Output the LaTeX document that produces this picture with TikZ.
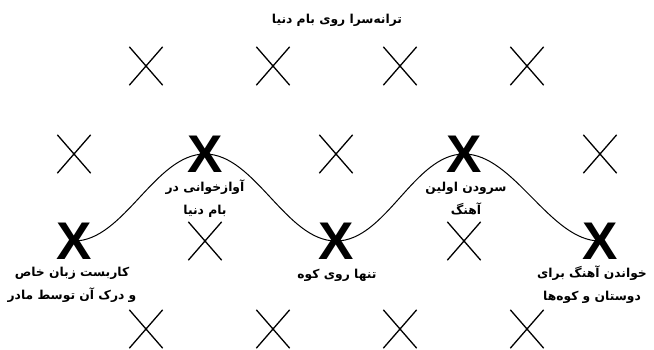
\documentclass[tikz,border=0pt]{standalone}
\usepackage{fontspec}
\usetikzlibrary{shapes.misc}
\TeXXeTstate=1
\newfontfamily\arabicfont[Script=Arabic]{DejaVu Sans}
\newfontfamily\xfont{Liberation Sans}
\begin{document}
\begin{tikzpicture}[x=1pt,y=-1pt,
  thinx/.style={cross out,draw,minimum width=32pt,minimum height=37pt,inner sep=0pt,line width=1.3pt},
  boldx/.style={inner sep=0pt,font=\xfont\bfseries\fontsize{53}{53}\selectfont},
  lbl/.style={font=\arabicfont\bfseries\fontsize{12.3}{23}\selectfont,align=center,inner sep=0pt},
  wave/.style={line width=1pt}]
\useasboundingbox (0,0) rectangle (654,349);
% curve points
\coordinate (p1) at (74,241);
\coordinate (p2) at (205,154);
\coordinate (p3) at (336,241);
\coordinate (p4) at (464,154);
\coordinate (p5) at (600,241);
\draw[wave] (p1) .. controls +(50,0) and +(-50,0) .. (p2)
  .. controls +(50,0) and +(-50,0) .. (p3)
  .. controls +(50,0) and +(-50,0) .. (p4)
  .. controls +(50,0) and +(-50,0) .. (p5);
% bold X
\node[boldx] (b1) at (p1) {X};
\node[boldx] (b2) at (p2) {X};
\node[boldx] (b3) at (p3) {X};
\node[boldx] (b4) at (p4) {X};
\node[boldx] (b5) at (p5) {X};
% thin X rows
\node[thinx] (t11) at (146,66) {};
\node[thinx] (t12) at (273,66) {};
\node[thinx] (t13) at (400,66) {};
\node[thinx] (t14) at (527,66) {};
\node[thinx] (t21) at (74,154) {};
\node[thinx] (t22) at (336,154) {};
\node[thinx] (t23) at (600,154) {};
\node[thinx] (t31) at (205,241) {};
\node[thinx] (t32) at (464,241) {};
\node[thinx] (t41) at (146,329) {};
\node[thinx] (t42) at (273,329) {};
\node[thinx] (t43) at (400,329) {};
\node[thinx] (t44) at (527,329) {};
% texts
\node[lbl] (title) at (337,20) {\beginR ترانه‌سرا روی بام دنیا\endR};
\node[lbl] (l1) at (72,285) {\beginR کاربست زبان خاص\endR\\\beginR و درک آن توسط مادر\endR};
\node[lbl] (l2) at (205,199) {\beginR آوازخوانی در\endR\\\beginR بام دنیا\endR};
\node[lbl] (l3) at (337,275) {\beginR تنها روی کوه\endR};
\node[lbl] (l4) at (466,199) {\beginR سرودن اولین\endR\\\beginR آهنگ\endR};
\node[lbl] (l5) at (592,285) {\beginR خواندن آهنگ برای\endR\\\beginR دوستان و کوه‌ها\endR};
\end{tikzpicture}
\end{document}
